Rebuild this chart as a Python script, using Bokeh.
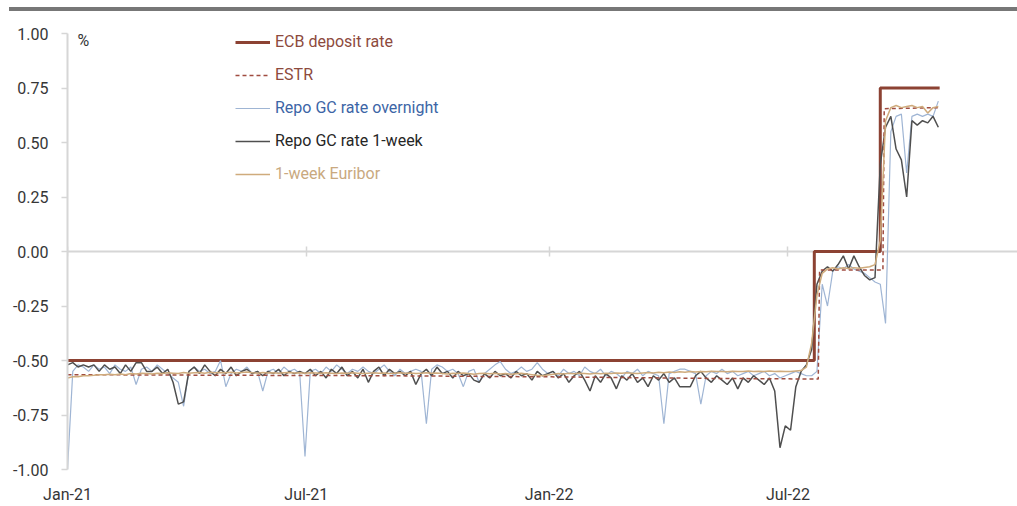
import pandas as pd
from bokeh.plotting import figure
from bokeh.models import (Range1d, FixedTicker, NumeralTickFormatter, DatetimeTickFormatter,
                          DatetimeAxis, Legend, LegendItem, Label, Div)
from bokeh.layouts import column
from bokeh.embed import file_html
from bokeh.resources import INLINE

FONT = "Roboto"

# ---------------- data ----------------
# ECB deposit facility rate (step series)
ecb_dates = ["2021-01-01", "2022-07-21", "2022-09-09", "2022-10-24"]
ecb_rate = [-0.50, 0.00, 0.75, 0.75]

# ESTR (near step-like)
estr_dates = ["2021-01-01", "2021-04-01", "2021-09-01", "2022-01-03", "2022-05-01",
              "2022-07-24", "2022-07-25", "2022-09-11", "2022-09-12", "2022-10-24"]
estr = [-0.565, -0.567, -0.570, -0.575, -0.582, -0.585, -0.085, -0.085, 0.655, 0.660]

# observation grid for the market series (every 4 days from 2021-01-01)
grid_start = "2021-01-01"
grid_periods = 166

repo_on = [
    -1.00, -0.55, -0.52, -0.53, -0.55, -0.52, -0.54, -0.53, -0.56, -0.52,
    -0.54, -0.55, -0.53, -0.61, -0.54, -0.53, -0.55, -0.52, -0.54, -0.56,
    -0.58, -0.60, -0.71, -0.55, -0.53, -0.55, -0.54, -0.56, -0.55, -0.50,
    -0.62, -0.56, -0.54, -0.55, -0.53, -0.56, -0.55, -0.64, -0.55, -0.54,
    -0.56, -0.53, -0.55, -0.54, -0.56, -0.94, -0.55, -0.54, -0.56, -0.53,
    -0.55, -0.52, -0.54, -0.56, -0.54, -0.55, -0.53, -0.55, -0.56, -0.54,
    -0.52, -0.55, -0.57, -0.54, -0.56, -0.55, -0.54, -0.55, -0.79, -0.54,
    -0.52, -0.53, -0.55, -0.54, -0.56, -0.62, -0.55, -0.54, -0.60, -0.56,
    -0.54, -0.52, -0.505, -0.54, -0.56, -0.55, -0.53, -0.55, -0.54, -0.51,
    -0.54, -0.56, -0.55, -0.57, -0.54, -0.56, -0.55, -0.57, -0.53, -0.55,
    -0.56, -0.54, -0.57, -0.55, -0.56, -0.58, -0.55, -0.56, -0.54, -0.57,
    -0.55, -0.56, -0.57, -0.79, -0.56, -0.55, -0.54, -0.54, -0.55, -0.56,
    -0.70, -0.57, -0.55, -0.56, -0.54, -0.56, -0.55, -0.57, -0.56, -0.55,
    -0.57, -0.56, -0.55, -0.57, -0.56, -0.58, -0.57, -0.56, -0.55, -0.56,
    -0.57, -0.57, -0.55, -0.15, -0.25, -0.09, -0.07, -0.08, -0.06, -0.08,
    -0.09, -0.10, -0.12, -0.14, -0.15, -0.33, 0.55, 0.62, 0.63, 0.36,
    0.62, 0.63, 0.62, 0.63, 0.62, 0.69,
]

repo_1w = [
    -0.52, -0.51, -0.53, -0.52, -0.53, -0.52, -0.55, -0.52, -0.54, -0.53,
    -0.56, -0.52, -0.55, -0.51, -0.51, -0.55, -0.55, -0.53, -0.56, -0.54,
    -0.60, -0.70, -0.69, -0.55, -0.53, -0.56, -0.52, -0.55, -0.57, -0.54,
    -0.56, -0.53, -0.57, -0.55, -0.54, -0.56, -0.55, -0.57, -0.55, -0.56,
    -0.54, -0.57, -0.55, -0.56, -0.55, -0.56, -0.54, -0.57, -0.55, -0.58,
    -0.54, -0.56, -0.53, -0.57, -0.55, -0.58, -0.54, -0.60, -0.55, -0.53,
    -0.57, -0.54, -0.56, -0.55, -0.57, -0.55, -0.61, -0.56, -0.54, -0.57,
    -0.53, -0.56, -0.55, -0.58, -0.55, -0.57, -0.56, -0.59, -0.60, -0.56,
    -0.58, -0.55, -0.57, -0.56, -0.58, -0.55, -0.57, -0.56, -0.59, -0.55,
    -0.57, -0.56, -0.55, -0.58, -0.56, -0.60, -0.57, -0.55, -0.59, -0.64,
    -0.57, -0.60, -0.56, -0.58, -0.63, -0.57, -0.59, -0.56, -0.60, -0.58,
    -0.62, -0.57, -0.59, -0.56, -0.60, -0.58, -0.62, -0.62, -0.62, -0.57,
    -0.55, -0.58, -0.60, -0.57, -0.59, -0.61, -0.58, -0.63, -0.58, -0.60,
    -0.57, -0.59, -0.61, -0.58, -0.64, -0.90, -0.80, -0.82, -0.62, -0.55,
    -0.52, -0.45, -0.15, -0.09, -0.07, -0.09, -0.06, -0.02, -0.08, -0.02,
    -0.07, -0.11, -0.13, -0.12, 0.40, 0.57, 0.62, 0.47, 0.42, 0.25,
    0.60, 0.58, 0.60, 0.59, 0.62, 0.57,
]

euribor_1w = [
    -0.580, -0.575, -0.575, -0.570, -0.570, -0.568, -0.565, -0.565, -0.563, -0.565,
    -0.562, -0.565, -0.560, -0.562, -0.558, -0.560, -0.562, -0.558, -0.560, -0.556,
    -0.558, -0.560, -0.555, -0.558, -0.556, -0.555, -0.558, -0.554, -0.556, -0.555,
    -0.556, -0.554, -0.557, -0.555, -0.553, -0.556, -0.558, -0.555, -0.557, -0.556,
    -0.558, -0.556, -0.555, -0.557, -0.556, -0.558, -0.556, -0.557, -0.559, -0.556,
    -0.558, -0.560, -0.557, -0.559, -0.556, -0.558, -0.560, -0.558, -0.556, -0.559,
    -0.557, -0.560, -0.558, -0.556, -0.559, -0.557, -0.560, -0.558, -0.556, -0.559,
    -0.557, -0.560, -0.562, -0.558, -0.560, -0.557, -0.560, -0.563, -0.560, -0.558,
    -0.561, -0.559, -0.562, -0.560, -0.563, -0.561, -0.559, -0.562, -0.565, -0.568,
    -0.570, -0.566, -0.563, -0.560, -0.562, -0.559, -0.561, -0.558, -0.560, -0.562,
    -0.559, -0.561, -0.558, -0.560, -0.557, -0.559, -0.556, -0.558, -0.560, -0.557,
    -0.555, -0.557, -0.554, -0.556, -0.553, -0.555, -0.552, -0.554, -0.551, -0.553,
    -0.550, -0.552, -0.549, -0.551, -0.550, -0.552, -0.549, -0.551, -0.550, -0.548,
    -0.550, -0.549, -0.551, -0.548, -0.550, -0.549, -0.551, -0.550, -0.548, -0.546,
    -0.530, -0.420, -0.200, -0.100, -0.080, -0.075, -0.080, -0.075, -0.078, -0.074,
    -0.077, -0.073, -0.070, -0.060, 0.050, 0.600, 0.660, 0.670, 0.660, 0.665,
    0.670, 0.660, 0.665, 0.635, 0.660, 0.665,
]

x_tick_dates = ["2021-01-01", "2021-07-01", "2022-01-01", "2022-07-01"]
y_ticks = [-1.0, -0.75, -0.5, -0.25, 0.0, 0.25, 0.5, 0.75, 1.0]

series_labels = ["ECB deposit rate", "ESTR", "Repo GC rate overnight",
                 "Repo GC rate 1-week", "1-week Euribor"]

# ---------------- styles ----------------
C_ECB = "#8c4233"
C_ESTR = "#a04c40"
C_ON = "#9fb5d4"
C_1W = "#4f4f4f"
C_EUR = "#cfab7c"
T_ECB = "#8d4a3d"
T_ESTR = "#8d4a3d"
T_ON = "#3c65a6"
T_1W = "#262626"
T_EUR = "#c9a97f"
AX = "#d6d6d6"
TXT = "#363636"
FS = "16px"

grid_dates = pd.date_range(grid_start, periods=grid_periods, freq="4D")
ecb_x = pd.to_datetime(ecb_dates)
estr_x = pd.to_datetime(estr_dates)

p = figure(width=1017, height=495, x_axis_type="datetime",
           x_range=Range1d(pd.Timestamp("2021-01-01"), pd.Timestamp("2022-12-22")),
           y_range=Range1d(-1.0, 1.0),
           output_backend="svg", toolbar_location=None,
           min_border_left=67, min_border_right=0, min_border_top=22, min_border_bottom=35)
p.outline_line_color = None
p.xgrid.visible = False
p.ygrid.visible = False
p.background_fill_color = "white"
p.border_fill_color = "white"

r_ecb = p.step(ecb_x, ecb_rate, mode="after", line_color=C_ECB, line_width=3)
r_on = p.line(grid_dates, repo_on, line_color=C_ON, line_width=1.2)
r_1w = p.line(grid_dates, repo_1w, line_color=C_1W, line_width=1.5)
r_estr = p.line(estr_x, estr, line_color=C_ESTR, line_width=1.5, line_dash="4 3")
r_eur = p.line(grid_dates, euribor_1w, line_color=C_EUR, line_width=1.5)

tick_ms = [pd.Timestamp(d).value // 10**6 for d in x_tick_dates]
fmt = DatetimeTickFormatter(days="%b-%y", months="%b-%y", years="%b-%y")

# bottom label axis
xa = p.xaxis[0]
xa.ticker = FixedTicker(ticks=tick_ms)
xa.formatter = fmt
xa.axis_line_color = None
xa.major_tick_line_color = None
xa.minor_tick_line_color = None
xa.major_tick_in = 0
xa.major_tick_out = 0
xa.major_label_standoff = 15
xa.major_label_text_font = FONT
xa.major_label_text_font_size = FS
xa.major_label_text_color = TXT

# zero line axis with crossing ticks, drawn beneath the series
za = DatetimeAxis(fixed_location=0, ticker=FixedTicker(ticks=tick_ms), formatter=fmt,
                  axis_line_color=AX, axis_line_width=2,
                  major_tick_line_color=AX, major_tick_line_width=1.5,
                  major_tick_in=5, major_tick_out=5,
                  minor_tick_line_color=None,
                  major_label_text_font_size="0px", major_label_text_alpha=0,
                  level="underlay")
p.add_layout(za, "below")

ya = p.yaxis[0]
ya.ticker = FixedTicker(ticks=y_ticks)
ya.formatter = NumeralTickFormatter(format="0.00")
ya.axis_line_color = AX
ya.axis_line_width = 2
ya.major_tick_line_color = AX
ya.major_tick_line_width = 1.5
ya.major_tick_in = 0
ya.major_tick_out = 6
ya.minor_tick_line_color = None
ya.major_label_standoff = 13
ya.major_label_text_font = FONT
ya.major_label_text_font_size = FS
ya.major_label_text_color = TXT

p.add_layout(Label(x=10, y=429, x_units="screen", y_units="screen", text="%",
                   text_font=FONT, text_font_size=FS, text_color=TXT,
                   text_baseline="middle", text_align="left"))

renderers = [r_ecb, r_estr, r_on, r_1w, r_eur]
text_cols = [T_ECB, T_ESTR, T_ON, T_1W, T_EUR]
for i, (lab, r, tc) in enumerate(zip(series_labels, renderers, text_cols)):
    lg = Legend(items=[LegendItem(label=lab, renderers=[r])],
                location=(168, 418 - 33 * i),
                glyph_width=35, glyph_height=18, label_height=18,
                label_standoff=5, padding=0, margin=0, spacing=0,
                border_line_color=None, background_fill_alpha=0,
                label_text_font=FONT, label_text_font_size=FS,
                label_text_color=tc)
    p.add_layout(lg)

bar = Div(text="", width=1008, height=4, margin=(7, 0, 0, 9),
          styles={"background-color": "#777777"})

layout = column(bar, p, spacing=0)
open("out.html", "w").write(file_html(layout, INLINE))
